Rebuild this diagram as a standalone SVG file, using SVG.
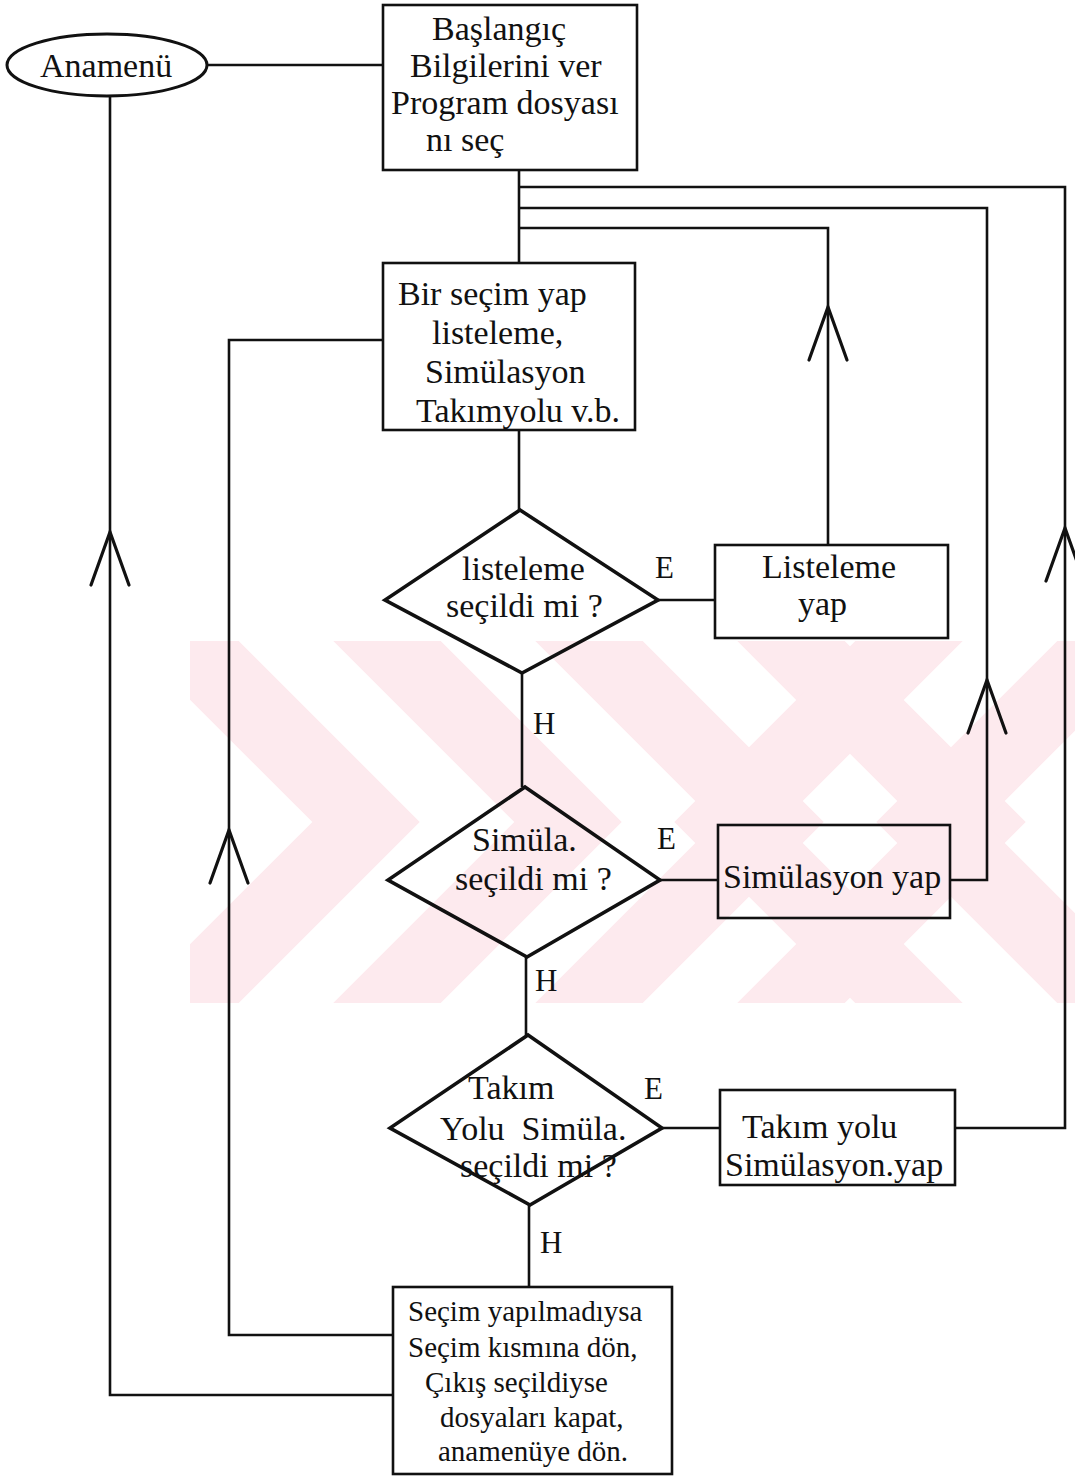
<svg xmlns="http://www.w3.org/2000/svg" width="1075" height="1480" viewBox="0 0 1075 1480">
  <style>
    .box { fill: none; stroke: #111; stroke-width: 2.6; }
    .dia { fill: none; stroke: #111; stroke-width: 3.6; stroke-linejoin: miter; }
    .term { fill: none; stroke: #111; stroke-width: 3; }
    .wire { fill: none; stroke: #111; stroke-width: 2.6; }
    .chev { fill: none; stroke: #111; stroke-width: 3.2; stroke-linecap: round; stroke-linejoin: miter; }
    .t { font-family: "Liberation Serif", "Times New Roman", serif; font-size: 34px; fill: #111; }
    .ts { font-family: "Liberation Serif", "Times New Roman", serif; font-size: 29px; fill: #111; }
    .lbl { font-family: "Liberation Serif", "Times New Roman", serif; font-size: 31px; fill: #111; }
    .wm { fill: none; stroke: #fdeaee; stroke-width: 76; stroke-linejoin: miter; }
  </style>
  <defs>
    <!-- open "V" arrowhead pointing up, tip at origin -->
    <path id="up" class="chev" d="M-19,53 L0,0 L19,53"/>
    <clipPath id="wmclip">
      <rect x="190" y="641" width="885" height="362"/>
    </clipPath>
  </defs>

  <rect width="1075" height="1480" fill="#ffffff"/>

  <!-- background stamp: nested diagonal chevrons crossing into an X -->
  <g id="stamp" clip-path="url(#wmclip)">
    <polyline class="wm" points="125,581 366,822 125,1063"/>
    <polyline class="wm" points="327,581 568,822 327,1063"/>
    <polyline class="wm" points="529,581 770,822 529,1063"/>
    <polyline class="wm" points="731,581 972,822 731,1063"/>
    <polyline class="wm" points="969,581 728,822 969,1063"/>
    <polyline class="wm" points="1171,581 930,822 1171,1063"/>
    <polyline class="wm" points="1373,581 1132,822 1373,1063"/>
  </g>

  <g id="connectors">
    <path class="wire" d="M207,65 H383"/>
    <path class="wire" d="M110,97 V1395 H393"/>
    <path class="wire" d="M519,170 V263"/>
    <path class="wire" d="M519,187 H1065 V1128 H955"/>
    <path class="wire" d="M519,208 H987 V880 H950"/>
    <path class="wire" d="M519,228 H828 V545"/>
    <path class="wire" d="M519,430 V510"/>
    <path class="wire" d="M658,600 H715"/>
    <path class="wire" d="M522,673 V787"/>
    <path class="wire" d="M660,880 H718"/>
    <path class="wire" d="M526,957 V1035"/>
    <path class="wire" d="M662,1128 H720"/>
    <path class="wire" d="M529,1205 V1287"/>
    <path class="wire" d="M393,1335 H229 V340 H383"/>
    <use href="#up" x="110" y="532"/>
    <use href="#up" x="229" y="830"/>
    <use href="#up" x="828" y="307"/>
    <use href="#up" x="987" y="680"/>
    <use href="#up" x="1065" y="528"/>
    <text class="lbl" x="655" y="578">E</text>
    <text class="lbl" x="657" y="849">E</text>
    <text class="lbl" x="644" y="1099">E</text>
    <text class="lbl" x="533" y="734">H</text>
    <text class="lbl" x="535" y="991">H</text>
    <text class="lbl" x="540" y="1253">H</text>
  </g>

  <g id="anamenu">
    <ellipse class="term" cx="107" cy="65" rx="100" ry="31"/>
    <text class="t" x="40" y="77">Anamenü</text>
  </g>

  <g id="baslangic">
    <rect class="box" x="383" y="5" width="254" height="165"/>
    <text class="t" x="432" y="40">Başlangıç</text>
    <text class="t" x="410" y="77">Bilgilerini ver</text>
    <text class="t" x="391" y="114">Program dosyası</text>
    <text class="t" x="426" y="151">nı seç</text>
  </g>

  <g id="secim">
    <rect class="box" x="383" y="263" width="252" height="167"/>
    <text class="t" x="398" y="305">Bir seçim yap</text>
    <text class="t" x="432" y="344">listeleme,</text>
    <text class="t" x="425" y="383">Simülasyon</text>
    <text class="t" x="416" y="422">Takımyolu v.b.</text>
  </g>

  <g id="listeleme-karar">
    <polygon class="dia" points="520,510 658,600 522,673 385,600"/>
    <text class="t" x="462" y="580">listeleme</text>
    <text class="t" x="446" y="617">seçildi mi ?</text>
  </g>

  <g id="listeleme-yap">
    <rect class="box" x="715" y="545" width="233" height="93"/>
    <text class="t" x="762" y="578">Listeleme</text>
    <text class="t" x="798" y="615">yap</text>
  </g>

  <g id="simulasyon-karar">
    <polygon class="dia" points="525,787 660,880 527,957 388,880"/>
    <text class="t" x="472" y="851">Simüla.</text>
    <text class="t" x="455" y="890">seçildi mi ?</text>
  </g>

  <g id="simulasyon-yap">
    <rect class="box" x="718" y="825" width="232" height="93"/>
    <text class="t" x="723" y="888">Simülasyon yap</text>
  </g>

  <g id="takimyolu-karar">
    <polygon class="dia" points="528,1035 662,1128 530,1205 390,1128"/>
    <text class="t" x="468" y="1099">Takım</text>
    <text class="t" x="440" y="1140" xml:space="preserve">Yolu  Simüla.</text>
    <text class="t" x="460" y="1177">seçildi mi ?</text>
  </g>

  <g id="takimyolu-yap">
    <rect class="box" x="720" y="1090" width="235" height="95"/>
    <text class="t" x="742" y="1138">Takım yolu</text>
    <text class="t" x="725" y="1176">Simülasyon.yap</text>
  </g>

  <g id="cikis">
    <rect class="box" x="393" y="1287" width="279" height="187"/>
    <text class="ts" x="408" y="1321">Seçim yapılmadıysa</text>
    <text class="ts" x="408" y="1357">Seçim kısmına dön,</text>
    <text class="ts" x="425" y="1392">Çıkış seçildiyse</text>
    <text class="ts" x="440" y="1427">dosyaları kapat,</text>
    <text class="ts" x="438" y="1461">anamenüye dön.</text>
  </g>
</svg>
